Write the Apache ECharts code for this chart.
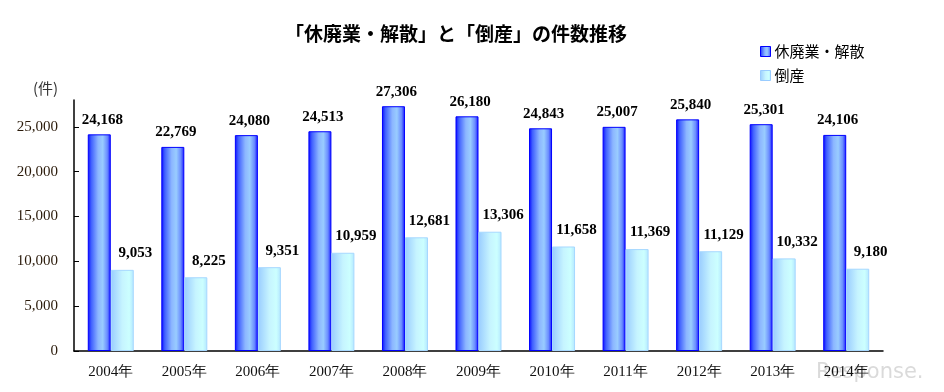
<!DOCTYPE html>
<html><head><meta charset="utf-8">
<script src="https://cdn.jsdelivr.net/npm/echarts@6/dist/echarts.min.js"></script>
<style>html,body{margin:0;padding:0;background:#fff}#c{width:944px;height:392px}</style>
</head><body><div id="c"></div>
<script>
const categories = ['2004年','2005年','2006年','2007年','2008年','2009年','2010年','2011年','2012年','2013年','2014年'];
const closures = [24168,22769,24080,24513,27306,26180,24843,25007,25840,25301,24106];
const bankruptcies = [9053,8225,9351,10959,12681,13306,11658,11369,11129,10332,9180];
const yTicks = [0,5000,10000,15000,20000,25000];
const seriesNames = ['休廃業・解散','倒産'];

const blueGrad = new echarts.graphic.LinearGradient(0,0,1,0,[
  {offset:0,color:'#0a0aff'},{offset:0.15,color:'#4060ff'},{offset:0.45,color:'#8cb6ff'},
  {offset:0.65,color:'#99ccff'},{offset:0.85,color:'#6a8cff'},{offset:1,color:'#1515ff'}]);
const lightGrad = new echarts.graphic.LinearGradient(0,0,1,0,[
  {offset:0,color:'#99ccff'},{offset:0.5,color:'#c6f4ff'},{offset:0.8,color:'#ccffff'},{offset:1,color:'#b3e6ff'}]);

const fmt = v => v.toLocaleString('en-US');
const chart = echarts.init(document.getElementById('c'));
chart.setOption({
  animation:false,
  title:{text:'「休廃業・解散」と「倒産」の件数推移',left:451,top:19,textAlign:'center',
    textStyle:{fontFamily:'Noto Sans CJK JP',fontWeight:'bold',fontSize:19,color:'#000'}},
  legend:{orient:'vertical',left:755,top:39,itemWidth:10,itemHeight:10,itemGap:9,
    textStyle:{fontFamily:'Noto Sans CJK JP',fontSize:15,color:'#000',padding:[0,0,0,-1]},
    data:[{name:seriesNames[0],icon:'rect',itemStyle:{color:blueGrad,borderColor:'#0000ff',borderWidth:1}},
          {name:seriesNames[1],icon:'rect',itemStyle:{color:lightGrad,borderColor:'#99ccff',borderWidth:1}}]},
  grid:{left:74,right:61,top:100,bottom:41,containLabel:false},
  graphic:[
    {type:'text',left:33,top:81,style:{text:'(件)',font:'15px "Noto Sans CJK JP"',fill:'#333'}},
    {type:'text',left:816,top:362,style:{text:'Response.',font:'21px "DejaVu Sans"',fill:'rgba(150,150,150,0.35)'}}
  ],
  xAxis:{type:'category',data:categories,
    axisLine:{lineStyle:{color:'#000',width:1.5}},
    axisTick:{inside:true,length:5,lineStyle:{color:'#000'}},
    axisLabel:{fontFamily:'Liberation Serif',fontSize:15,color:'#111',margin:14}},
  yAxis:{type:'value',min:0,max:28000,
    axisLine:{show:true,lineStyle:{color:'#000',width:1.5}},
    axisTick:{show:true,inside:true,length:5,customValues:yTicks,lineStyle:{color:'#000'}},
    axisLabel:{customValues:yTicks,fontFamily:'Liberation Serif',fontSize:15,color:'#2a1a0a',margin:16,formatter:v=>fmt(v)},
    splitLine:{show:false}},
  series:[
    {name:seriesNames[0],type:'bar',data:closures,barWidth:23,barGap:'0%',
     itemStyle:{color:blueGrad,borderColor:'#0000ff',borderWidth:1},
     label:{show:true,position:'top',distance:7,offset:[3,0],formatter:p=>fmt(p.value),
       fontFamily:'Liberation Serif',fontWeight:'bold',fontSize:15,color:'#000'}},
    {name:seriesNames[1],type:'bar',data:bankruptcies,barWidth:23,
     itemStyle:{color:lightGrad,borderColor:'#a6d8ff',borderWidth:1},
     label:{show:true,position:'top',distance:9,offset:[13,0],formatter:p=>fmt(p.value),
       fontFamily:'Liberation Serif',fontWeight:'bold',fontSize:15,color:'#000'}}
  ]
});
</script></body></html>
